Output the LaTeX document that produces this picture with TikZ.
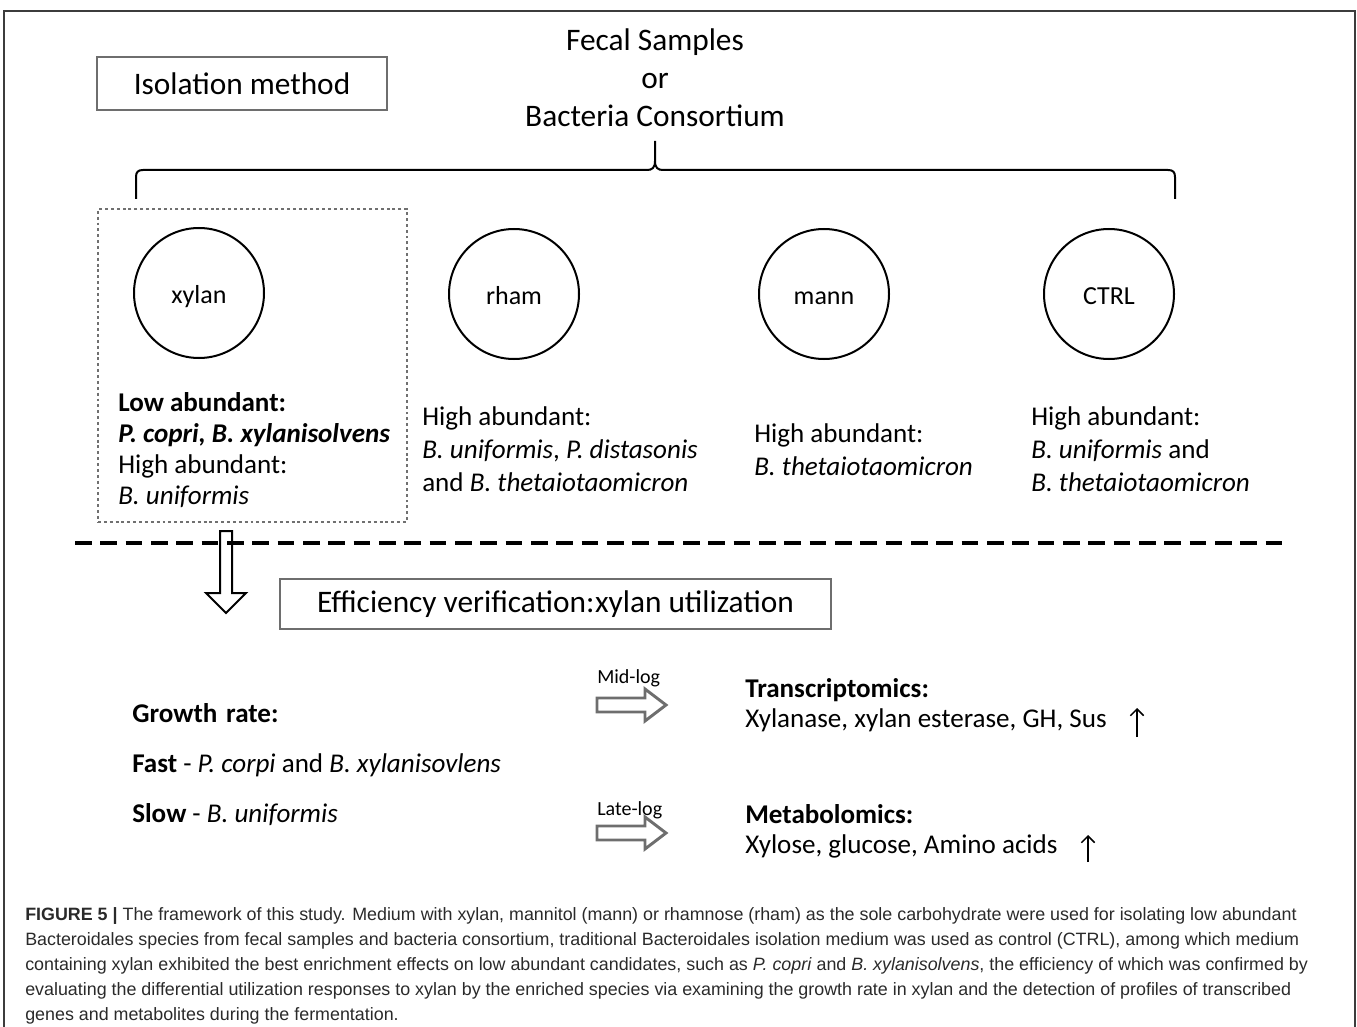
\documentclass[tikz,border=0pt]{standalone}
\usepackage{fontspec}
\setmainfont{Carlito}
\newfontfamily\capfont{Liberation Sans}
\usetikzlibrary{arrows.meta}
\definecolor{boxgray}{HTML}{6E6E6E}
\definecolor{framegray}{HTML}{3C3C3C}
\definecolor{dotgray}{HTML}{707070}
\definecolor{capgray}{HTML}{2A2A2A}
\begin{document}
\begin{tikzpicture}[x=0.75pt,y=-0.75pt,
  txt/.style={anchor=base west,inner sep=0pt,font=\fontsize{20.3}{24}\selectfont},
  hdr/.style={anchor=base,inner sep=0pt,font=\fontsize{23.5}{28}\selectfont},
  circ/.style={circle,draw,line width=1.5pt,minimum size=97.5pt,inner sep=0pt,text height=15pt,text depth=0pt,font=\fontsize{19.5}{23}\selectfont},
  gbox/.style={draw=boxgray,line width=2.2pt,inner sep=0pt,font=\fontsize{23.5}{28}\selectfont},
  smalltxt/.style={anchor=base west,inner sep=0pt,font=\fontsize{15}{18}\selectfont},
  captxt/.style={anchor=base west,inner sep=0pt,text=capgray,font=\capfont\fontsize{13.4}{16}\selectfont},
  hollow/.style={draw=boxgray,line width=2.2pt,line join=miter},
  uparrow/.style={line width=1.1pt,-{Straight Barb[length=5pt,width=10pt]}},
]
\useasboundingbox (0,0) rectangle (1357,1027);
% outer frame
\draw[framegray,line width=1.5pt] (4,1040) -- (4,11) -- (1355,11) -- (1355,1040);

% header
\node[gbox,minimum width=217.5pt,minimum height=39.75pt] (iso) at (242,83.5) {Isolation method};
\node[hdr] (fecal) at (655,51) {Fecal Samples};
\node[hdr] (or) at (655,89) {or};
\node[hdr] (bact) at (655,127) {Bacteria Consortium};

% brace
\draw[line width=1.5pt] (136,199) -- (136,177) .. controls (136,172) and (138,170) .. (143,170) -- (647,170) .. controls (652,170) and (655,168) .. (655,161) -- (655,141);
\draw[line width=1.5pt] (1175,199) -- (1175,177) .. controls (1175,172) and (1173,170) .. (1168,170) -- (663,170) .. controls (658,170) and (655,168) .. (655,161);

% selection box
\node[draw=dotgray,line width=2.2pt,dash pattern=on 2.2pt off 2.2pt,minimum width=231.75pt,minimum height=234.75pt,inner sep=0pt] (sel) at (252.5,365.5) {};

% circles
\node[circ] (xylan) at (199,293) {xylan};
\node[circ] (rham) at (514,294) {rham};
\node[circ] (mann) at (824,294) {mann};
\node[circ] (ctrl) at (1109,294) {CTRL};

% xylan group
\node[txt] (x1) at (118,411) {\textbf{Low abundant:}};
\node[txt] (x2) at (118,442) {\textbf{\textit{P. copri, B. xylanisolvens}}};
\node[txt] (x3) at (118,473) {High abundant:};
\node[txt] (x4) at (118,504) {\textit{B. uniformis}};

% rham group
\node[txt] (r1) at (422,425) {High abundant:};
\node[txt] (r2) at (422,458) {\textit{B. uniformis}, \textit{P. distasonis}};
\node[txt] (r3) at (422,491) {and \textit{B. thetaiotaomicron}};

% mann group
\node[txt] (m1) at (754,442) {High abundant:};
\node[txt] (m2) at (754,475) {\textit{B. thetaiotaomicron}};

% ctrl group
\node[txt] (c1) at (1031,425) {High abundant:};
\node[txt] (c2) at (1031,458) {\textit{B. uniformis} and};
\node[txt] (c3) at (1031,491) {\textit{B. thetaiotaomicron}};

% dashed separator
\draw[line width=2.3pt,dash pattern=on 12.5pt off 6.5pt] (75,543) -- (1285,543);

% down arrow
\draw[line width=1.5pt,line join=miter] (220,531) -- (232,531) -- (232,593) -- (246,593) -- (226,613) -- (206,593) -- (220,593) -- cycle;

% efficiency box
\node[gbox,minimum width=413.25pt,minimum height=37.5pt] (eff) at (555.5,604) {Efficiency verification:\hspace{0.5pt}xylan utilization};

% growth rate
\node[txt] (g1) at (132,722) {\textbf{Growth\hspace{2pt} rate:}};
\node[txt] (g2) at (132,772) {\textbf{Fast} - \textit{P. corpi} and \textit{B. xylanisovlens}};
\node[txt] (g3) at (132,822) {\textbf{Slow} - \textit{B. uniformis}};

% phase arrows
\node[smalltxt] (mid) at (597,683) {Mid-log};
\draw[hollow] (597,698) -- (645,698) -- (645,689) -- (666,705) -- (645,721) -- (645,712) -- (597,712) -- cycle;
\node[smalltxt] (late) at (597,815) {Late-log};
\draw[hollow] (597,826) -- (645,826) -- (645,817) -- (666,833) -- (645,849) -- (645,840) -- (597,840) -- cycle;

% omics
\node[txt] (t1) at (745,697) {\textbf{Transcriptomics:}};
\node[txt] (t2) at (745,727) {Xylanase, xylan esterase, GH, Sus};
\coordinate (t3a) at (1137,737);
\coordinate (t3b) at (1137,708);
\draw[uparrow] (t3a) -- (t3b);
\node[txt] (mb1) at (745,823) {\textbf{Metabolomics:}};
\node[txt] (mb2) at (745,853) {Xylose, glucose, Amino acids};
\coordinate (m3a) at (1088,862);
\coordinate (m3b) at (1088,835);
\draw[uparrow] (m3a) -- (m3b);

% caption
\node[captxt] (cap1) at (25,920) {\textbf{FIGURE 5 |} The framework of this study. Medium with xylan, mannitol (mann) or rhamnose (rham) as the sole carbohydrate were used for isolating low abundant};
\node[captxt] (cap2) at (25,945) {Bacteroidales species from fecal samples and bacteria consortium, traditional Bacteroidales isolation medium was used as control (CTRL), among which medium};
\node[captxt] (cap3) at (25,970) {containing xylan exhibited the best enrichment effects on low abundant candidates, such as \textit{P. copri} and \textit{B. xylanisolvens}, the efficiency of which was confirmed by};
\node[captxt] (cap4) at (25,995) {evaluating the differential utilization responses to xylan by the enriched species via examining the growth rate in xylan and the detection of profiles of transcribed};
\node[captxt] (cap5) at (25,1020) {genes and metabolites during the fermentation.};
\end{tikzpicture}
\end{document}
